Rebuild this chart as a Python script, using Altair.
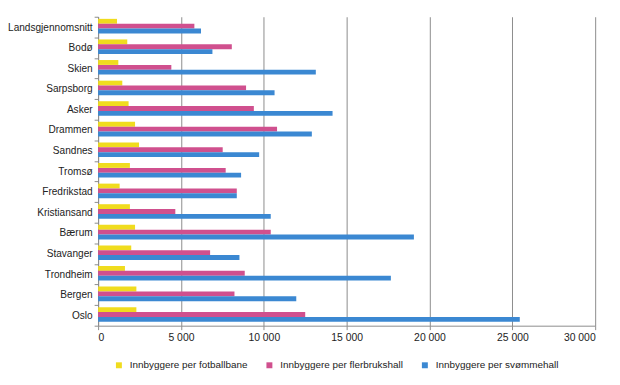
import altair as alt
import pandas as pd

cities = ["Landsgjennomsnitt", "Bodø", "Skien", "Sarpsborg", "Asker", "Drammen", "Sandnes",
          "Tromsø", "Fredrikstad", "Kristiansand", "Bærum", "Stavanger", "Trondheim", "Bergen", "Oslo"]
fotballbane = [1140, 1760, 1220, 1460, 1840, 2230, 2470, 1920, 1300, 1920, 2230, 2000, 1620, 2310, 2310]
flerbrukshall = [5810, 8070, 4420, 8930, 9400, 10800, 7520, 7700, 8370, 4660, 10420, 6760, 8850, 8230, 12500]
svommehall = [6210, 6900, 13140, 10650, 14150, 12900, 9720, 8630, 8370, 10420, 19060, 8530, 17670, 11960, 25450]

series = ["Innbyggere per fotballbane", "Innbyggere per flerbrukshall", "Innbyggere per svømmehall"]
colors = ["#f0dc1e", "#d0508e", "#3b88d2"]

rows = []
for vals, s in zip([fotballbane, flerbrukshall, svommehall], series):
    for c, v in zip(cities, vals):
        rows.append({"by": c, "serie": s, "verdi": v})
df = pd.DataFrame(rows)

font = "Liberation Sans"

chart = alt.Chart(df).mark_bar().encode(
    x=alt.X("verdi:Q",
            scale=alt.Scale(domain=[0, 30000], nice=False),
            axis=alt.Axis(title=None, values=[0, 5000, 10000, 15000, 20000, 25000, 30000],
                          labelExpr="replace(format(datum.value, ','), ',', ' ')",
                          grid=True, gridColor="#8c8c8c", gridWidth=1,
                          domainColor="#8c8c8c", tickColor="#8c8c8c", tickSize=4,
                          labelPadding=3, labelFontSize=10.5, labelFont=font,
                          labelColor="#222222")),
    y=alt.Y("by:N", sort=cities,
            scale=alt.Scale(paddingInner=0, paddingOuter=0),
            axis=alt.Axis(title=None, tickBand="extent", grid=False,
                          domainColor="#8c8c8c", tickColor="#8c8c8c", tickSize=4,
                          labelPadding=2, labelFontSize=10.2, labelFont=font,
                          labelColor="#222222", labelLimit=200)),
    yOffset=alt.YOffset("serie:N", sort=series,
                        scale=alt.Scale(paddingInner=0, paddingOuter=0.62, align=0.35)),
    color=alt.Color("serie:N", sort=series,
                    scale=alt.Scale(domain=series, range=colors),
                    legend=alt.Legend(title=None, orient="none", legendX=16, legendY=347,
                                      direction="horizontal", columns=3, columnPadding=17,
                                      symbolType="square", symbolSize=36, symbolStrokeWidth=0,
                                      labelFontSize=10, labelFont=font, labelColor="#222222",
                                      labelOffset=6, padding=0)),
).properties(
    width=502,
    height=312,
    autosize=alt.AutoSizeParams(type="none"),
    padding={"left": 91, "top": 7, "right": 17, "bottom": 50},
).configure_view(stroke=None)

chart.save("out.html", embed_options={"renderer": "svg", "actions": False})
